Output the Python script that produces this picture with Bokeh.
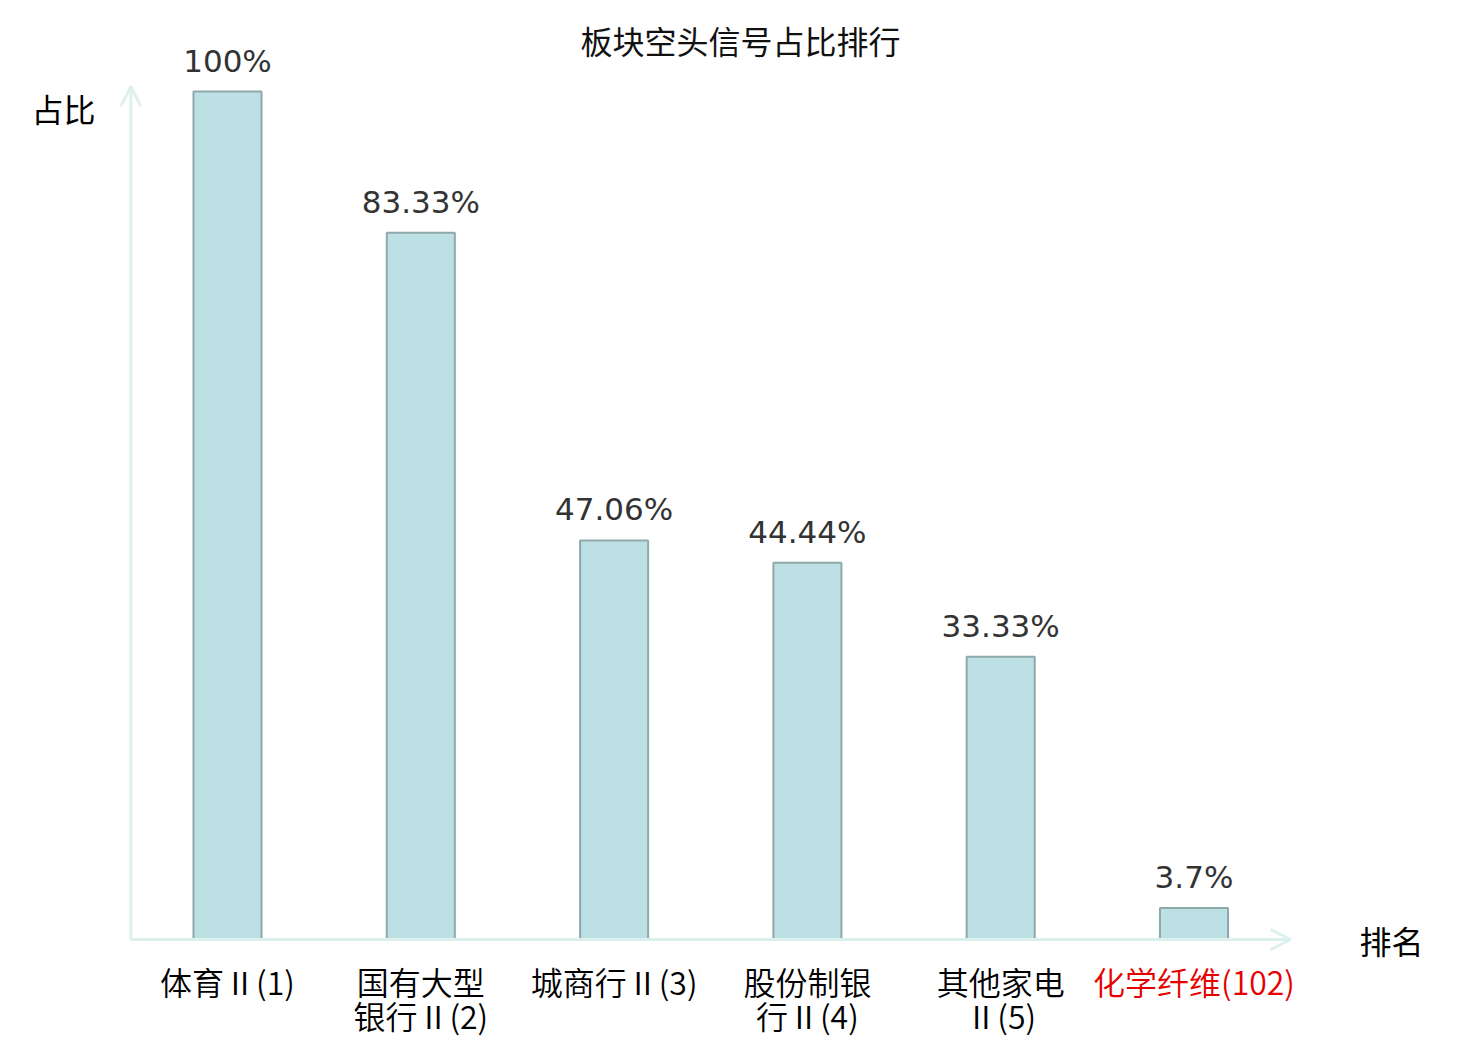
from bokeh.plotting import figure
from bokeh.models import ColumnDataSource, Range1d, Label, Arrow, OpenHead
from bokeh.core.properties import value
from bokeh.embed import file_html
from bokeh.resources import INLINE

title_text = "板块空头信号占比排行"
categories = ["体育Ⅱ(1)", "国有大型\n银行Ⅱ(2)", "城商行Ⅱ(3)", "股份制银\n行Ⅱ(4)", "其他家电\nⅡ(5)", "化学纤维(102)"]
values = [100, 83.33, 47.06, 44.44, 33.33, 3.7]
value_labels = ["100%", "83.33%", "47.06%", "44.44%", "33.33%", "3.7%"]
label_colors = ["#000000", "#000000", "#000000", "#000000", "#000000", "#e60000"]
y_name = "占比"
x_name = "排名"

W, H = 1480, 1040
px_per_cat = 193.3
px_per_val = 8.48
x0_px = 227.0   # canvas px of first category centre
y0_px = 939.0   # canvas px (from top) of value 0

xs = list(range(len(categories)))
x_start = -x0_px / px_per_cat
x_end = x_start + W / px_per_cat
y_start = -(H - y0_px) / px_per_val
y_end = y0_px / px_per_val

p = figure(width=W, height=H, output_backend="svg", toolbar_location=None,
           x_range=Range1d(x_start, x_end), y_range=Range1d(y_start, y_end),
           min_border=0, outline_line_color=None)
p.xaxis.visible = False
p.yaxis.visible = False
p.xgrid.visible = False
p.ygrid.visible = False
p.background_fill_color = "white"
p.border_fill_color = "white"

src = ColumnDataSource(dict(x=xs, top=values, lab=value_labels, cat=categories, col=label_colors,
                            base=[0] * len(xs)))

axis_color = "#dcf1ee"
n = len(categories)
p.add_layout(Arrow(end=OpenHead(size=20, line_color=axis_color, line_width=3),
                   x_start=-0.5, y_start=0, x_end=-0.5, y_end=max(values) * 1.006,
                   line_color=axis_color, line_width=3))
p.add_layout(Arrow(end=OpenHead(size=20, line_color=axis_color, line_width=3),
                   x_start=-0.5, y_start=0, x_end=n - 0.5, y_end=0,
                   line_color=axis_color, line_width=3))

p.vbar(x="x", top="top", bottom="base", width=0.352, source=src,
       fill_color="#bce0e3", line_color="#8fa9ab", line_width=2)

p.text(x="x", y="top", text="lab", source=src, text_align="center", text_baseline="bottom",
       y_offset=-13, text_font=value("DejaVu Sans"), text_font_size="31px", text_color="#333333")

p.text(x="x", y="base", text="cat", source=src, text_align="center", text_baseline="top",
       y_offset=18, text_font=value("Noto Sans CJK SC DemiLight, Noto Sans CJK SC"), text_font_size="32px",
       text_color="col", text_line_height=0.75)

p.add_layout(Label(x=740, y=H - 39, x_units="screen", y_units="screen", text=title_text,
                   text_align="center", text_baseline="middle", text_font="Noto Sans CJK SC",
                   text_font_size="32px", text_color="#111111"))
p.add_layout(Label(x=63, y=H - 107, x_units="screen", y_units="screen", text=y_name,
                   text_align="center", text_baseline="middle", text_font="Noto Sans CJK SC",
                   text_font_size="32px", text_color="#000000"))
p.add_layout(Label(x=1391, y=H - 939, x_units="screen", y_units="screen", text=x_name,
                   text_align="center", text_baseline="middle", text_font="Noto Sans CJK SC",
                   text_font_size="32px", text_color="#000000"))

open("out.html", "w").write(file_html(p, INLINE))
